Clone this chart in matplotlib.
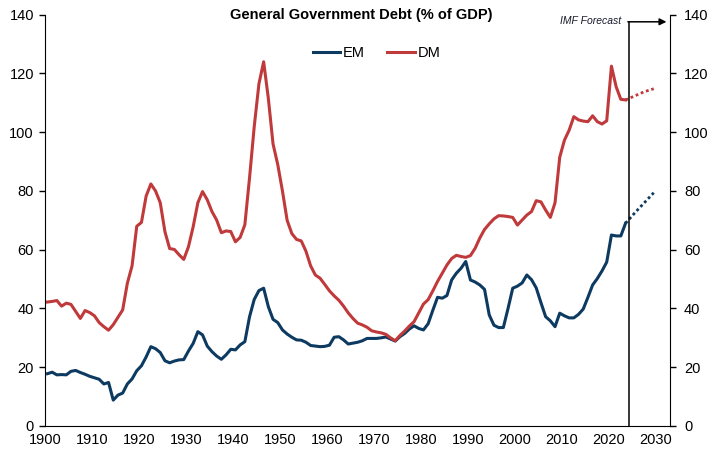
import numpy as np
import matplotlib
matplotlib.use("Agg")
import matplotlib.pyplot as plt

plt.rcParams["font.family"] = ["Liberation Sans", "DejaVu Sans"]

# data (% of GDP), annual 1900-2023
years = np.arange(1900, 2024)
em = [17.8, 18.3, 17.4, 17.5, 17.4, 18.6, 18.9, 18.2, 17.6, 16.9,
      16.4, 15.9, 14.3, 14.8, 8.8, 10.5, 11.2, 14.3, 16.0, 18.8,
      20.5, 23.5, 27.0, 26.3, 25.0, 22.2, 21.5, 22.1, 22.5, 22.6,
      25.5, 28.1, 32.1, 31.0, 27.2, 25.3, 23.8, 22.7, 24.2, 26.1,
      25.9, 27.6, 28.7, 37.2, 43.1, 46.1, 46.9, 40.6, 36.3, 35.2,
      32.7, 31.3, 30.2, 29.3, 29.2, 28.5, 27.4, 27.2, 27.0, 27.1,
      27.5, 30.2, 30.4, 29.3, 27.9, 28.2, 28.5, 29.0, 29.8, 29.8,
      29.8, 30.0, 30.3, 29.6, 28.9, 30.4, 31.5, 33.0, 34.1, 33.2,
      32.7, 34.8, 39.4, 43.8, 43.5, 44.4, 49.7, 52.0, 53.7, 56.0,
      49.7, 49.0, 48.0, 46.5, 37.8, 34.3, 33.5, 33.5, 40.0, 46.9,
      47.6, 48.7, 51.4, 49.8, 47.0, 42.0, 37.2, 35.8, 33.8, 38.4,
      37.5, 36.8, 36.8, 38.0, 39.8, 43.8, 48.0, 50.2, 52.8, 55.8,
      65.0, 64.7, 64.7, 69.0]
dm = [42.2, 42.4, 42.7, 40.8, 41.8, 41.4, 39.0, 36.6, 39.3, 38.6,
      37.5, 35.2, 33.8, 32.6, 34.5, 37.0, 39.5, 48.6, 54.5, 68.0,
      69.3, 78.3, 82.4, 80.0, 76.0, 66.1, 60.4, 60.1, 58.3, 56.7,
      61.0, 67.8, 76.0, 79.8, 77.0, 73.0, 70.1, 65.8, 66.4, 66.2,
      62.7, 64.2, 68.5, 84.5, 102.0, 116.5, 124.0, 111.5, 96.0, 89.0,
      80.0, 70.0, 65.5, 63.5, 63.0, 59.5, 54.5, 51.4, 50.3, 48.2,
      46.0, 44.3, 42.8, 40.8, 38.5, 36.6, 35.0, 34.4, 33.6, 32.4,
      32.0, 31.7, 31.2, 30.0, 29.0, 30.8, 32.3, 34.0, 35.5, 38.5,
      41.5, 43.0, 46.0, 49.2, 52.0, 54.8, 57.0, 58.1, 57.7, 57.4,
      58.0, 60.5, 64.0, 66.9, 68.8, 70.5, 71.6, 71.5, 71.3, 71.0,
      68.4, 70.1, 71.8, 73.0, 76.7, 76.3, 73.5, 71.0, 76.0, 91.5,
      97.3, 100.7, 105.3, 104.2, 103.8, 103.6, 105.6, 103.6, 102.8, 103.9,
      122.5, 115.5, 111.2, 111.0]

# IMF forecast
fc_years = np.arange(2023, 2030)
em_fc = [69.0, 70.8, 72.6, 74.3, 76.0, 77.7, 79.4]
dm_fc = [111.0, 111.7, 112.4, 113.1, 113.8, 114.3, 114.8]

yticks = [0, 20, 40, 60, 80, 100, 120, 140]
xticks = list(range(1900, 2031, 10))

EM_COL = "#0d3a60"
DM_COL = "#c0393b"

fig = plt.figure(figsize=(7.16, 4.61), dpi=100)
ax = fig.add_axes([0.063, 0.076, 0.873, 0.892])

# annual values plotted mid-year
ax.plot(years + 0.5, em, color=EM_COL, lw=2.2, label="EM", solid_joinstyle="round")
ax.plot(years + 0.5, dm, color=DM_COL, lw=2.2, label="DM", solid_joinstyle="round")
ax.plot(fc_years + 0.5, em_fc, color=EM_COL, lw=2.0, ls=(0, (1.0, 1.0)),
        dash_capstyle="butt")
ax.plot(fc_years + 0.5, dm_fc, color=DM_COL, lw=2.0, ls=(0, (1.0, 1.0)),
        dash_capstyle="butt")

ax.set_xlim(1900, 2033)
ax.set_ylim(0, 140)
ax.set_xticks(xticks)
ax.set_yticks(yticks)
ax.tick_params(axis="x", length=0, pad=5, labelsize=10.5)
ax.tick_params(axis="y", direction="out", length=4, width=1, pad=4, labelsize=10.5)
for s in ["top", "right"]:
    ax.spines[s].set_visible(False)

ax2 = ax.twinx()
ax2.set_ylim(0, 140)
ax2.set_yticks(yticks)
ax2.tick_params(axis="y", direction="out", length=4, width=1, pad=6, labelsize=10.5)
for s in ["top", "left", "bottom"]:
    ax2.spines[s].set_visible(False)

# forecast marker
ax.plot([2024.2, 2024.2], [0, 137.6], color="black", lw=1.1, clip_on=False)
ax.annotate("", xy=(2032.2, 137.6), xytext=(2024.0, 137.6),
            arrowprops=dict(arrowstyle="-|>", color="black", lw=1.1,
                            mutation_scale=10, shrinkA=0, shrinkB=0),
            annotation_clip=False)
ax.text(2022.6, 138.0, "IMF Forecast", style="italic", fontsize=7.5,
        ha="right", va="center", color="#1a1a2e")

fig.text(0.505, 0.9685, "General Government Debt (% of GDP)", fontsize=10.5,
         fontweight="bold", ha="center", va="center")

fig.legend(loc="center", bbox_to_anchor=(0.526, 0.884), ncol=2, frameon=False,
           fontsize=10.5, handlelength=1.9, columnspacing=1.5, handletextpad=0.2)

fig.savefig("out.png", dpi=100)
